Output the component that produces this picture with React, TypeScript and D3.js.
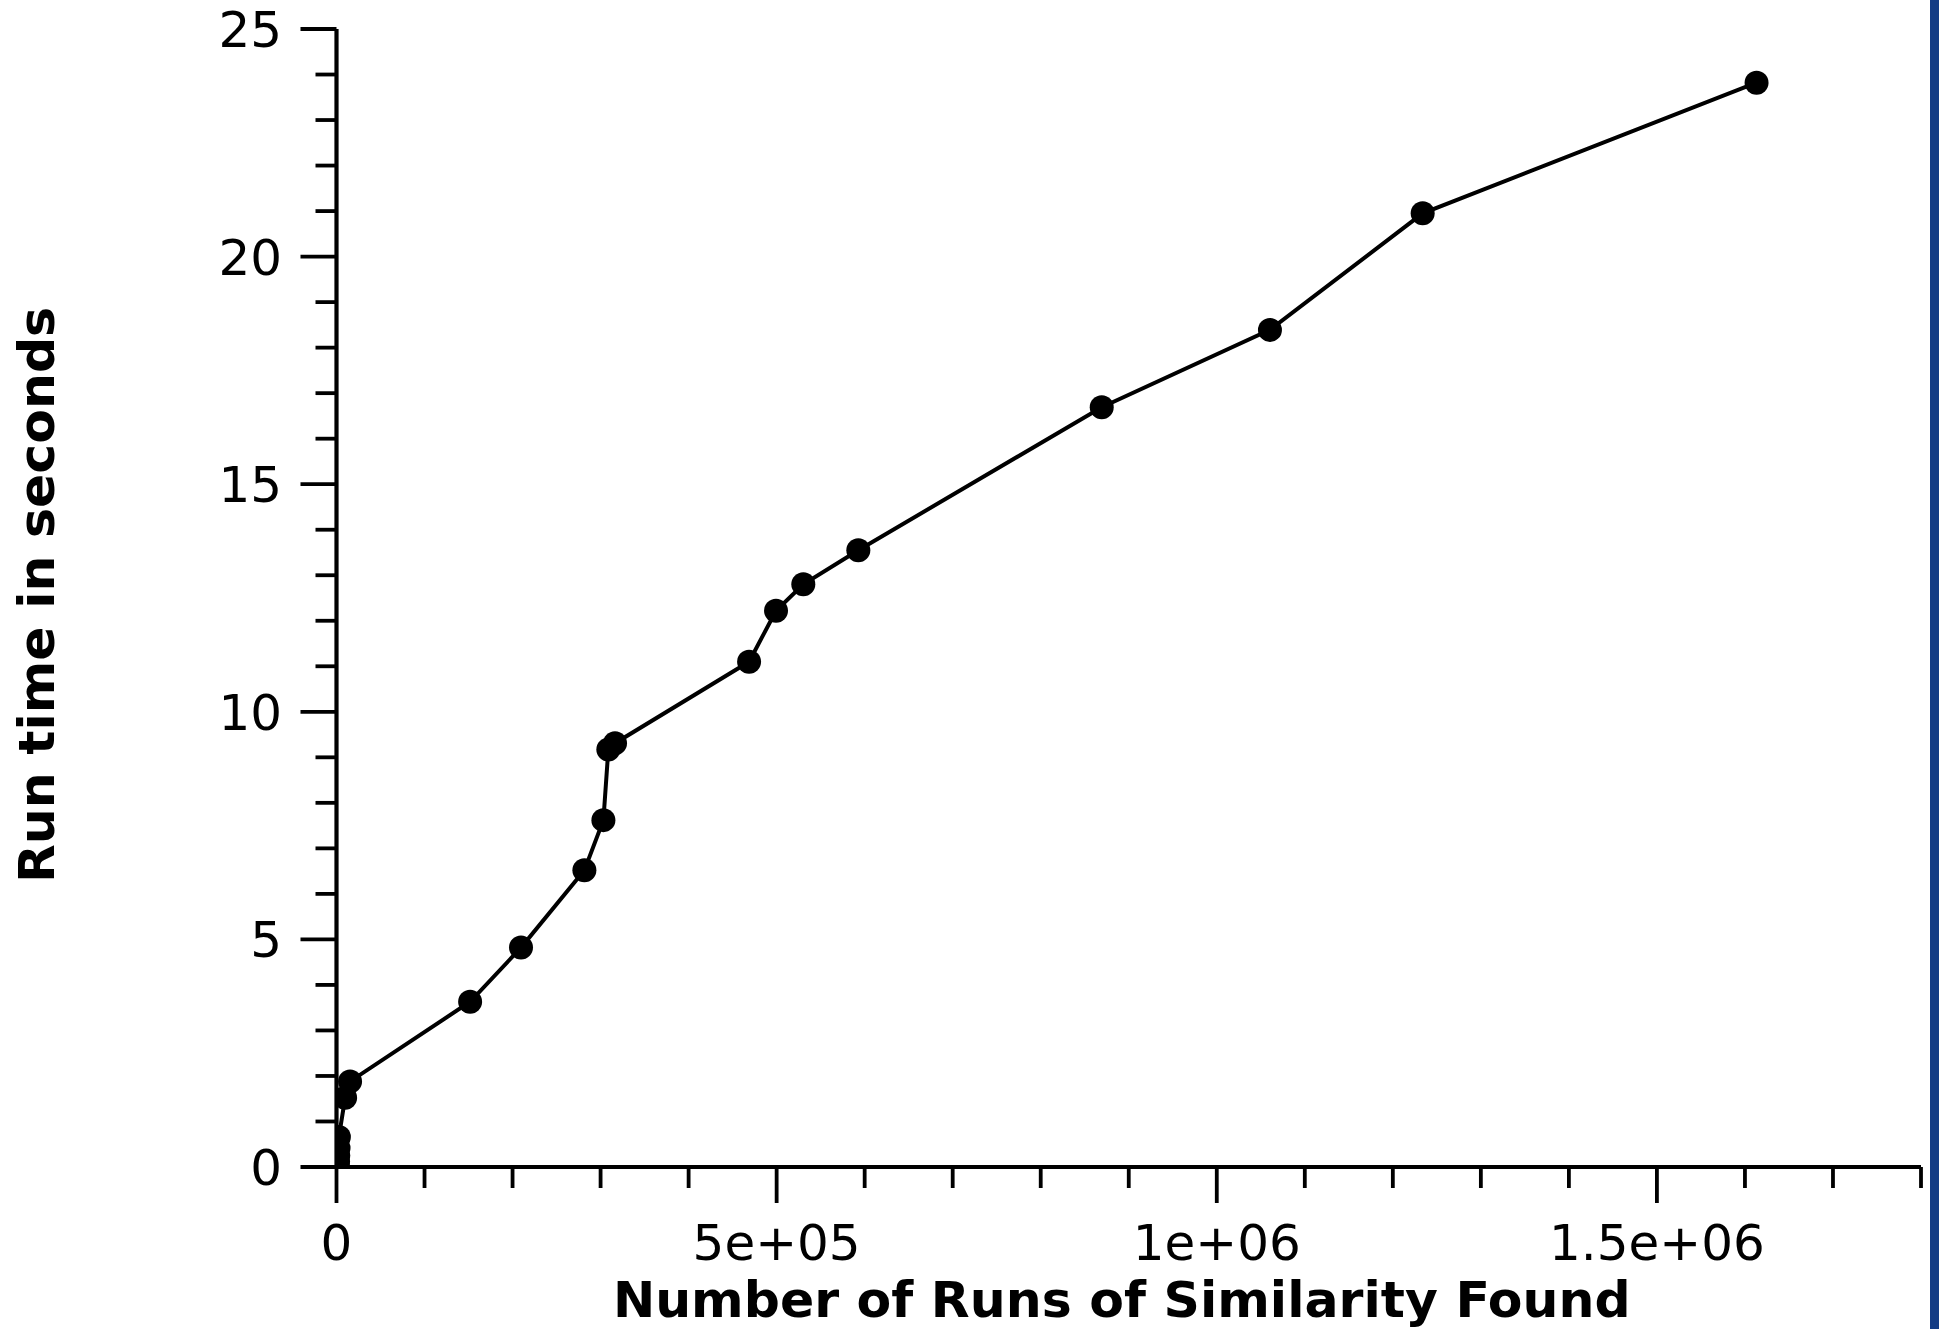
import React, { useEffect, useRef } from 'react';
import * as d3 from 'd3';

// Number of runs of similarity found vs run time (seconds)
const runsFound = [
  1500, 1800, 2000, 2300, 2700, 9800, 15400, 151800, 209600, 281600, 303200,
  308800, 316400, 468700, 499300, 530300, 592800, 869300, 1060400, 1233900, 1613200,
];
const runTimes = [
  0.03, 0.12, 0.25, 0.42, 0.66, 1.52, 1.88, 3.63, 4.82, 6.52, 7.62, 9.17, 9.31,
  11.1, 12.22, 12.8, 13.55, 16.69, 18.39, 20.95, 23.82,
];

const xMajorTicks = [0, 500000, 1000000, 1500000];
const xTickLabels = ['0', '5e+05', '1e+06', '1.5e+06'];
const yMajorTicks = [0, 5, 10, 15, 20, 25];
const yTickLabels = ['0', '5', '10', '15', '20', '25'];

const xLabel = 'Number of Runs of Similarity Found';
const yLabel = 'Run time in seconds';

const W = 1939;
const H = 1329;

const App = () => {
  const svgRef = useRef<SVGSVGElement | null>(null);

  useEffect(() => {
    const svg = d3.select(svgRef.current);
    svg.selectAll('*').remove();

    const font = 'DejaVu Sans, sans-serif';
    const x = d3.scaleLinear().domain([0, 1800000]).range([336.5, 1921]);
    const y = d3.scaleLinear().domain([0, 25]).range([1167, 29]);

    // blue strip on the right edge
    svg.append('rect')
      .attr('x', 1930).attr('y', 0)
      .attr('width', W - 1930).attr('height', H)
      .attr('fill', '#133c85');

    // clip for the markers
    svg.append('defs').append('clipPath').attr('id', 'plotclip')
      .append('rect')
      .attr('x', x(0)).attr('y', y(25) - 20)
      .attr('width', x(1800000) - x(0)).attr('height', y(0) - y(25) + 20);

    // minor ticks
    const xMinor = d3.range(0, 1800001, 100000);
    const yMinor = d3.range(0, 26, 1);

    const axes = svg.append('g').attr('stroke', '#000');

    axes.selectAll('.xminor')
      .data(xMinor)
      .join('line')
      .attr('x1', d => x(d)).attr('x2', d => x(d))
      .attr('y1', y(0)).attr('y2', d => y(0) + (xMajorTicks.includes(d) ? 36 : 21))
      .attr('stroke-width', 3.8);

    axes.selectAll('.yminor')
      .data(yMinor)
      .join('line')
      .attr('y1', d => y(d)).attr('y2', d => y(d))
      .attr('x1', x(0)).attr('x2', d => x(0) - (yMajorTicks.includes(d) ? 36 : 21))
      .attr('stroke-width', 3.8);

    // axis lines
    axes.append('line')
      .attr('x1', x(0)).attr('x2', x(1800000))
      .attr('y1', y(0)).attr('y2', y(0))
      .attr('stroke-width', 4.2);
    axes.append('line')
      .attr('x1', x(0)).attr('x2', x(0))
      .attr('y1', y(0)).attr('y2', y(25))
      .attr('stroke-width', 4.2);

    // tick labels
    svg.selectAll('.xlab')
      .data(xMajorTicks)
      .join('text')
      .attr('x', d => x(d))
      .attr('y', 1260)
      .attr('text-anchor', 'middle')
      .attr('font-family', font)
      .attr('font-size', 50)
      .text((d, i) => xTickLabels[i]);

    svg.selectAll('.ylab')
      .data(yMajorTicks)
      .join('text')
      .attr('x', 282)
      .attr('y', d => y(d) + 18)
      .attr('text-anchor', 'end')
      .attr('font-family', font)
      .attr('font-size', 50)
      .text((d, i) => yTickLabels[i]);

    // axis titles
    svg.append('text')
      .attr('x', (x(0) + x(1800000)) / 2 - 7)
      .attr('y', 1317)
      .attr('text-anchor', 'middle')
      .attr('font-family', font)
      .attr('font-weight', 'bold')
      .attr('font-size', 50.5)
      .text(xLabel);

    svg.append('text')
      .attr('transform', 'rotate(-90)')
      .attr('x', -595)
      .attr('y', 54)
      .attr('text-anchor', 'middle')
      .attr('font-family', font)
      .attr('font-weight', 'bold')
      .attr('font-size', 50.5)
      .text(yLabel);

    // line + points
    const data = runsFound.map((r, i) => ({ r, t: runTimes[i] }));
    const line = d3.line<{ r: number; t: number }>()
      .x(d => x(d.r))
      .y(d => y(d.t));

    const plot = svg.append('g').attr('clip-path', 'url(#plotclip)');

    plot.append('path')
      .datum(data)
      .attr('fill', 'none')
      .attr('stroke', '#000')
      .attr('stroke-width', 4)
      .attr('d', line);

    plot.selectAll('circle')
      .data(data)
      .join('circle')
      .attr('cx', d => x(d.r))
      .attr('cy', d => y(d.t))
      .attr('r', 12)
      .attr('fill', '#000');
  }, []);

  return (
    <svg
      ref={svgRef}
      width={W}
      height={H}
      style={{ position: 'absolute', left: 0, top: 0, background: '#fff' }}
    />
  );
};

export default App;
